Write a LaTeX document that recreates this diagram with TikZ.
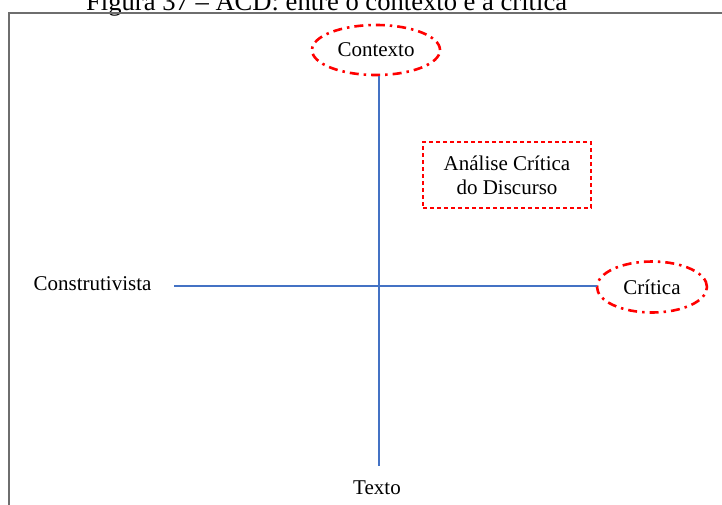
\documentclass[tikz,border=0pt]{standalone}
\usepackage{fontspec}
\setmainfont{Liberation Serif}
\usetikzlibrary{shapes.geometric}
\definecolor{axisblue}{HTML}{4472C4}
\definecolor{framegray}{HTML}{6E6E6E}
\tikzset{
  lbl/.style={font=\fontsize{21}{24}\selectfont, inner sep=0pt},
  oval/.style={ellipse, draw=red, line width=2.6pt,
    dash pattern=on 9pt off 5pt on 2.5pt off 5pt,
    font=\fontsize{21}{24}\selectfont, inner sep=0pt},
  dbox/.style={draw=red, line width=1.2pt, dash pattern=on 4pt off 3pt,
    align=center, font=\fontsize{21}{24}\selectfont, inner sep=0pt},
  axis/.style={draw=axisblue, line width=1.1pt}
}
\begin{document}
\begin{tikzpicture}[x=1pt,y=-1pt]
\useasboundingbox (0,0) rectangle (722,504);
\clip (0,0) rectangle (722,504);
\fill[white] (0,0) rectangle (722,504);
% title (cut off at top)
\node[anchor=base west, font=\fontsize{26.6}{30}\selectfont, inner sep=0pt] (title) at (86,10) {Figura 37 – ACD: entre o contexto e a crítica};
% frame
\draw[framegray, line width=1.6pt] (9,12.7) rectangle (740,530);
% nodes
\node[oval, minimum width=128pt, minimum height=50pt] (ctx) at (376,50) {Contexto};
\node[oval, minimum width=110pt, minimum height=51pt] (crit) at (652,287) {Crítica};
\node[dbox, minimum width=168pt, minimum height=66pt] (acd) at (507,175) {Análise Crítica\\do Discurso};
\node[lbl] (constr) at (92.5,284) {Construtivista};
\node[lbl] (texto) at (377,488) {Texto};
\coordinate (vtop) at (379,75.5);
\coordinate (vbot) at (379,466);
\coordinate (hleft) at (174,286);
\coordinate (hright) at (597,286);
% axes
\draw[axis] (vtop) -- (vbot);
\draw[axis] (hleft) -- (hright);
\end{tikzpicture}
\end{document}
